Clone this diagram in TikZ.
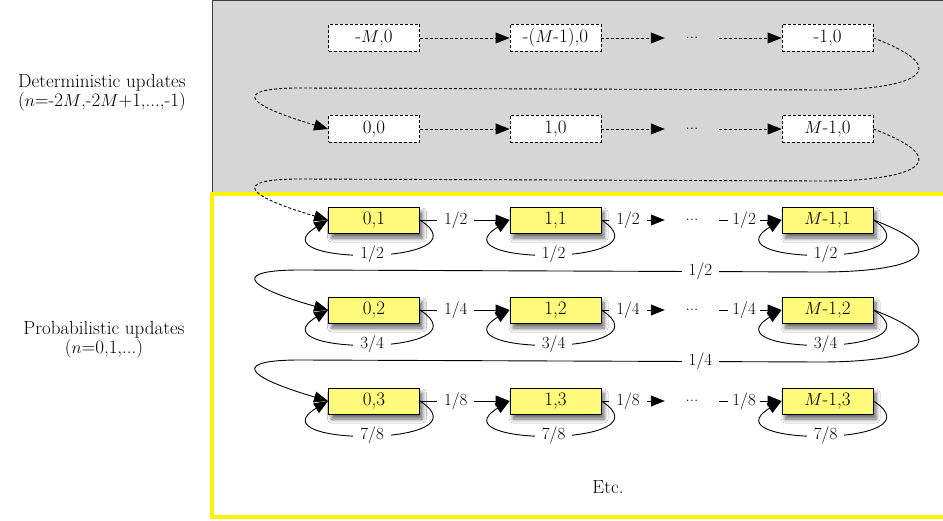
\documentclass[tikz,border=0pt]{standalone}
\usepackage{tikz}
\usetikzlibrary{arrows.meta,shadows.blur}
\definecolor{boxyellow}{RGB}{255,250,122}
\definecolor{panelgray}{RGB}{214,214,214}
\definecolor{framegray}{RGB}{60,60,60}

\begin{document}
\begin{tikzpicture}[x=1pt,y=-1pt]
\tikzstyle{detbox}=[draw, dash pattern=on 3pt off 2pt, line width=0.9pt, fill=white, minimum width=91pt, minimum height=27pt, inner sep=0pt, font=\fontsize{19}{19}\selectfont]
\tikzstyle{probbox}=[draw, fill=boxyellow, line width=0.9pt, minimum width=91pt, minimum height=26pt, inner sep=0pt, font=\fontsize{19}{19}\selectfont, blur shadow={shadow xshift=3pt, shadow yshift=-5pt, shadow blur steps=6, shadow blur radius=4pt, shadow opacity=60}]
\tikzstyle{gap}=[minimum width=54pt, inner sep=0pt, font=\fontsize{17}{17}\selectfont]
\tikzstyle{lbl}=[inner xsep=7pt, inner ysep=2pt, fill=white, font=\fontsize{17}{17}\selectfont]
\tikzstyle{arr}=[-{Triangle[length=14pt,width=11pt]}, line width=0.9pt]
\tikzstyle{darr}=[arr, dash pattern=on 3pt off 2pt]

\useasboundingbox (0,0) rectangle (943,521);
\fill[white] (0,0) rectangle (943,521);
\clip (0,0) rectangle (943,521);

% the two panels
\draw[framegray, fill=panelgray, line width=1pt] (212.5,0.5) rectangle (960,194);
\draw[yellow, line width=4.5pt] (212,194) rectangle (960,517);

\node[align=center, font=\fontsize{19}{17}\selectfont] (detlbl) at (102,93) {Deterministic updates\\($n$=-2$M$,-2$M$+1,...,-1)};
\node[align=center, font=\fontsize{19}{17}\selectfont] (problbl) at (104,340) {Probabilistic updates\\($n$=0,1,...)};
\node[font=\fontsize{19}{19}\selectfont] (etc) at (608,487) {Etc.};

% deterministic rows
\node[detbox] (t0) at (374,38) {-$M$,0};
\node[detbox] (t1) at (555.5,38) {-($M$-1),0};
\node[gap] (tg) at (692,38) {...};
\node[detbox] (tm) at (827.5,38) {-1,0};

\node[detbox] (u0) at (374,129) {0,0};
\node[detbox] (u1) at (555.5,129) {1,0};
\node[gap] (ug) at (692,129) {...};
\node[detbox] (um) at (827.5,129) {$M$-1,0};

% probabilistic rows
\node[probbox] (a1) at (374,220) {0,1};
\node[probbox] (b1) at (555.5,220) {1,1};
\node[gap] (g1) at (692,220) {...};
\node[probbox] (c1) at (827.5,220) {$M$-1,1};

\node[probbox] (a2) at (374,310) {0,2};
\node[probbox] (b2) at (555.5,310) {1,2};
\node[gap] (g2) at (692,310) {...};
\node[probbox] (c2) at (827.5,310) {$M$-1,2};

\node[probbox] (a3) at (374,401) {0,3};
\node[probbox] (b3) at (555.5,401) {1,3};
\node[gap] (g3) at (692,401) {...};
\node[probbox] (c3) at (827.5,401) {$M$-1,3};

\draw[darr] (t0) -- (t1);
\draw[darr] (t1) -- (tg);
\draw[darr] (tg) -- (tm);
\draw[darr] (u0) -- (u1);
\draw[darr] (u1) -- (ug);
\draw[darr] (ug) -- (um);

\draw[darr] (tm.east) .. controls +(85,32) and (915,90) .. (820,90) -- (300,88) .. controls (235,88) and (240,103) .. (u0.west);
\draw[darr] (um.east) .. controls +(85,32) and (915,181) .. (820,181) -- (300,179) .. controls (235,179) and (240,194) .. (a1.west);

\draw[arr] (a1) -- node[lbl, pos=.4] {1/2} (b1);
\draw[arr] (b1) -- node[lbl, pos=.42] {1/2} (g1);
\draw[arr] (g1) -- node[lbl, pos=.4, inner xsep=4pt] {1/2} (c1);
\draw[arr] (a2) -- node[lbl, pos=.4] {1/4} (b2);
\draw[arr] (b2) -- node[lbl, pos=.42] {1/4} (g2);
\draw[arr] (g2) -- node[lbl, pos=.4, inner xsep=4pt] {1/4} (c2);
\draw[arr] (a3) -- node[lbl, pos=.4] {1/8} (b3);
\draw[arr] (b3) -- node[lbl, pos=.42] {1/8} (g3);
\draw[arr] (g3) -- node[lbl, pos=.4, inner xsep=4pt] {1/8} (c3);

\draw[arr] (a1.east) .. controls +(71,46) and +(-76,46) .. node[lbl] {1/2} (a1.west);
\draw[arr] (b1.east) .. controls +(71,46) and +(-76,46) .. node[lbl] {1/2} (b1.west);
\draw[arr] (c1.east) .. controls +(71,46) and +(-76,46) .. node[lbl] {1/2} (c1.west);
\draw[arr] (a2.east) .. controls +(71,46) and +(-76,46) .. node[lbl] {3/4} (a2.west);
\draw[arr] (b2.east) .. controls +(71,46) and +(-76,46) .. node[lbl] {3/4} (b2.west);
\draw[arr] (c2.east) .. controls +(71,46) and +(-76,46) .. node[lbl] {3/4} (c2.west);
\draw[arr] (a3.east) .. controls +(71,46) and +(-76,46) .. node[lbl] {7/8} (a3.west);
\draw[arr] (b3.east) .. controls +(71,46) and +(-76,46) .. node[lbl] {7/8} (b3.west);
\draw[arr] (c3.east) .. controls +(71,46) and +(-76,46) .. node[lbl] {7/8} (c3.west);

\draw[arr] (c1.east) .. controls +(85,32) and (915,272) .. (820,272) -- node[lbl, pos=.23] {1/2} (300,270) .. controls (235,270) and (240,285) .. (a2.west);
\draw[arr] (c2.east) .. controls +(85,32) and (915,362) .. (820,362) -- node[lbl, pos=.23] {1/4} (300,360) .. controls (235,360) and (240,375) .. (a3.west);
\end{tikzpicture}
\end{document}
